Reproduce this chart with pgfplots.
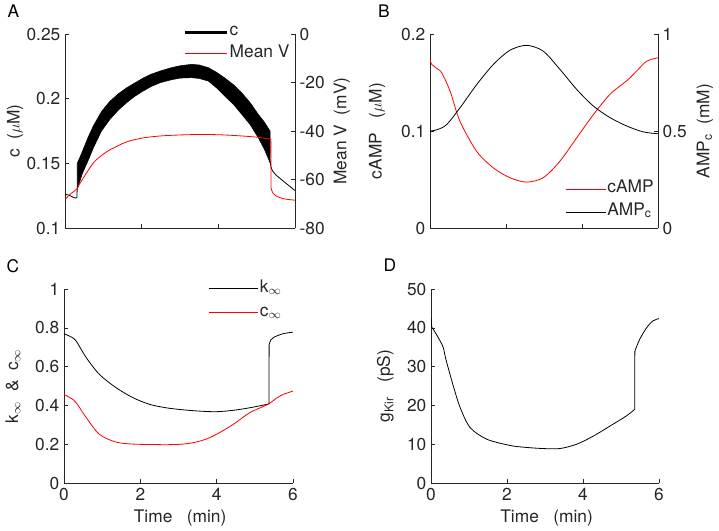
\documentclass[border=0pt]{standalone}
\usepackage{fontspec}
\setmainfont{TeX Gyre Heros}
\usepackage{pgfplots}
\pgfplotsset{compat=1.18}
\definecolor{axc}{RGB}{38,38,38}
\pgfplotsset{
  mat/.style={
    scale only axis,
    axis line style={axc, line width=0.5pt},
    tick style={axc, line width=0.5pt},
    tick align=inside, major tick length=3pt,
    ticklabel style={text=axc},
    label style={text=axc},
    xmin=0, xmax=6, xtick={0,2,4,6},
    /pgf/number format/assume math mode=true,
    legend cell align=left,
    legend style={draw=none, fill=none, inner sep=0pt, text=axc,
      nodes={inner ysep=0pt, inner xsep=1pt, text height=9pt, text depth=4pt}},
    every axis plot/.append style={line width=0.6pt},
  },
}
\begin{document}
\begin{tikzpicture}[font=\fontsize{13}{15.6}\selectfont]
\path (0,0) rectangle (539.25pt,396.75pt);

% ---------- Panel A ----------
\begin{axis}[mat, at={(48.75pt,226.5pt)}, anchor=south west,
  width=172.5pt, height=145.5pt,
  ymin=0.1, ymax=0.25, ytick={0.1,0.15,0.2,0.25}, yticklabels={0.1,0.15,0.2,0.25},
  xticklabels={}, axis x line*=bottom, axis y line*=left,
  ylabel={c\ \ ($\mu$M)},
  ylabel style={at={(axis description cs:-0.217,0.5)}, anchor=center}]
\addplot[black, smooth] coordinates {(0,0.126) (0.1,0.1255) (0.2,0.124) (0.28,0.1232) (0.31,0.1236)};
\addplot[black] coordinates {(0.31,0.1236) (0.32,0.131)};
\addplot[black, fill=black, draw=black, line width=0.4pt] coordinates {
 (0.32,0.131) (0.32,0.150) (0.45,0.159) (0.6,0.170) (0.74,0.179) (0.95,0.190) (1.17,0.198) (1.4,0.204) (1.61,0.2085) (1.8,0.2118) (2.04,0.216) (2.25,0.219) (2.48,0.2214) (2.75,0.2238) (3.0,0.2255) (3.3,0.2266) (3.5,0.2261) (3.74,0.224) (3.95,0.2205) (4.17,0.216) (4.4,0.2107) (4.61,0.2046) (4.83,0.197) (5.04,0.188) (5.2,0.182) (5.35,0.175)
 (5.35,0.1505) (5.2,0.161) (5.04,0.170) (4.83,0.180) (4.61,0.188) (4.4,0.1955) (4.17,0.202) (3.95,0.2085) (3.74,0.2137) (3.5,0.2157) (3.3,0.2163) (3.0,0.2160) (2.75,0.2145) (2.48,0.2124) (2.25,0.2095) (2.04,0.206) (1.8,0.2015) (1.61,0.197) (1.4,0.1915) (1.17,0.184) (0.95,0.175) (0.74,0.162) (0.6,0.152) (0.45,0.142) (0.33,0.131)} -- cycle;
\addplot[black] coordinates {(5.35,0.152) (5.37,0.148)};
\addplot[black, smooth] coordinates {(5.37,0.148) (5.40,0.145) (5.5,0.1412) (5.75,0.135) (6,0.129)};
\end{axis}
\begin{axis}[mat, at={(48.75pt,226.5pt)}, anchor=south west,
  width=172.5pt, height=145.5pt,
  ymin=-80, ymax=0, ytick={-80,-60,-40,-20,0},
  axis x line=none, axis y line*=right,
  ylabel={Mean V\ \ (mV)},
  ylabel style={at={(axis description cs:1.204,0.5)}, anchor=center},
  legend image code/.code={\draw[#1] (0pt,0pt) -- (31pt,0pt);},
  legend style={at={(0.515,1.055)}, anchor=north west, row sep=3pt}]
\addlegendimage{black, line width=2.5pt}
\addlegendentry{c}
\addplot[red, smooth] coordinates {(0,-68.3) (0.13,-66.1) (0.3,-64.0) (0.38,-61.8) (0.48,-59.3) (0.74,-53.1) (1.0,-49.5) (1.2,-47.5) (1.6,-44.5) (2.04,-42.8) (2.5,-42.0) (3,-41.6) (3.5,-41.4) (4,-41.5) (4.5,-41.9) (5,-42.5) (5.35,-43.3)};
\addlegendentry{Mean V}
\addplot[red, forget plot] coordinates {(5.35,-43.3) (5.37,-43.4) (5.375,-63.4)};
\addplot[red, smooth, forget plot] coordinates {(5.375,-63.4) (5.42,-65.5) (5.5,-66.7) (5.7,-67.9) (6,-68.5)};
\end{axis}

% ---------- Panel B ----------
\begin{axis}[mat, at={(322.5pt,226.5pt)}, anchor=south west,
  width=171pt, height=145.5pt,
  ymin=0, ymax=0.2, ytick={0,0.1,0.2}, yticklabels={0,0.1,0.2},
  xticklabels={}, axis x line*=bottom, axis y line*=left,
  ylabel={cAMP\ \ \ ($\mu$M)},
  ylabel style={at={(axis description cs:-0.232,0.5)}, anchor=center}]
\addplot[red, smooth] coordinates {(0,0.174) (0.04,0.169) (0.2,0.164) (0.31,0.160) (0.53,0.141) (0.79,0.110) (1.23,0.079) (1.67,0.062) (2.1,0.052) (2.54,0.0474) (2.98,0.052) (3.42,0.069) (3.86,0.093) (4.3,0.117) (4.74,0.138) (5.18,0.152) (5.44,0.162) (5.7,0.172) (6,0.1756)};
\end{axis}
\begin{axis}[mat, at={(322.5pt,226.5pt)}, anchor=south west,
  width=171pt, height=145.5pt,
  ymin=0, ymax=1, ytick={0,0.5,1},
  axis x line=none, axis y line*=right,
  ylabel={AMP\textsubscript{c}\ \ (mM)},
  ylabel style={at={(axis description cs:1.206,0.5)}, anchor=center},
  legend image code/.code={\draw[#1] (0pt,0pt) -- (30pt,0pt);},
  legend style={at={(0.592,0.245)}, anchor=north west, row sep=4pt}]
\addlegendimage{red, line width=0.6pt}
\addlegendentry{cAMP}
\addplot[black, smooth] coordinates {(0,0.5) (0.2,0.508) (0.44,0.534) (0.79,0.62) (1.23,0.74) (1.67,0.844) (2.1,0.916) (2.54,0.942) (2.98,0.912) (3.42,0.818) (3.86,0.715) (4.3,0.629) (4.74,0.569) (5.18,0.526) (5.61,0.496) (6,0.486)};
\addlegendentry{AMP\textsubscript{c}}
\end{axis}

% ---------- Panel C ----------
\begin{axis}[mat, at={(48pt,35.25pt)}, anchor=south west,
  width=171.75pt, height=145.5pt,
  ymin=0, ymax=1, ytick={0,0.2,0.4,0.6,0.8,1},
  axis x line*=bottom, axis y line*=left,
  xlabel={Time\ \ \ (min)},
  xlabel style={at={(axis description cs:0.507,-0.18)}, anchor=center},
  ylabel={k$_\infty$\ \ \&\ \ c$_\infty$},
  ylabel style={at={(axis description cs:-0.223,0.5)}, anchor=center},
  legend image code/.code={\draw[#1] (0pt,0pt) -- (37pt,0pt);},
  legend style={at={(0.630,1.048)}, anchor=north west, row sep=5pt}]
\addplot[black, smooth] coordinates {(0,0.77) (0.2,0.752) (0.32,0.732) (0.585,0.646) (0.93,0.56) (1.37,0.491) (1.81,0.44) (2.24,0.406) (2.68,0.388) (3.1,0.378) (3.55,0.371) (3.99,0.368) (4.43,0.375) (4.86,0.388) (5.37,0.408)};
\addlegendentry{k$_\infty$}
\addplot[red, smooth] coordinates {(0,0.457) (0.2,0.435) (0.32,0.414) (0.585,0.337) (0.93,0.251) (1.37,0.211) (1.81,0.201) (2.24,0.199) (2.68,0.198) (3.05,0.200) (3.38,0.208) (3.7,0.225) (3.99,0.251) (4.43,0.302) (4.86,0.362) (5.34,0.406) (5.55,0.435) (5.74,0.457) (6,0.474)};
\addlegendentry{c$_\infty$}
\addplot[black, forget plot] coordinates {(5.37,0.408) (5.375,0.715)};
\addplot[black, smooth, forget plot] coordinates {(5.375,0.715) (5.42,0.738) (5.5,0.752) (5.74,0.77) (6,0.778)};
\end{axis}

% ---------- Panel D ----------
\begin{axis}[mat, at={(323.25pt,35.25pt)}, anchor=south west,
  width=171pt, height=145.5pt,
  ymin=0, ymax=50, ytick={0,10,20,30,40,50},
  axis x line*=bottom, axis y line*=left,
  xlabel={Time\ \ \ (min)},
  xlabel style={at={(axis description cs:0.507,-0.18)}, anchor=center},
  ylabel={g\textsubscript{Kir}\ \ \ (pS)},
  ylabel style={at={(axis description cs:-0.20,0.5)}, anchor=center}]
\addplot[black] coordinates {(0,42.7) (0.02,40.2)};
\addplot[black, smooth] coordinates {(0.02,40.2) (0.15,38.2) (0.3,35.5) (0.34,34.3)};
\addplot[black, smooth] coordinates {(0.34,34.3) (0.4,31.6) (0.6,24.6) (0.77,19.4) (1.03,14.3) (1.47,11.3) (2.08,9.7) (2.5,9.2) (2.96,8.9) (3.39,8.9) (3.83,10.0) (4.27,12.1) (4.71,14.7) (5.14,17.3) (5.36,19.0)};
\addplot[black] coordinates {(5.36,19.0) (5.365,34.0)};
\addplot[black, smooth] coordinates {(5.365,34.0) (5.49,37.0) (5.67,40.0) (5.84,41.8) (6,42.4)};
\end{axis}

% panel letters
\node[text=black] at (10pt,389.5pt) {A};
\node[text=black] at (288pt,389.5pt) {B};
\node[text=black] at (9.75pt,198pt) {C};
\node[text=black] at (292.5pt,198.75pt) {D};
\end{tikzpicture}
\end{document}
